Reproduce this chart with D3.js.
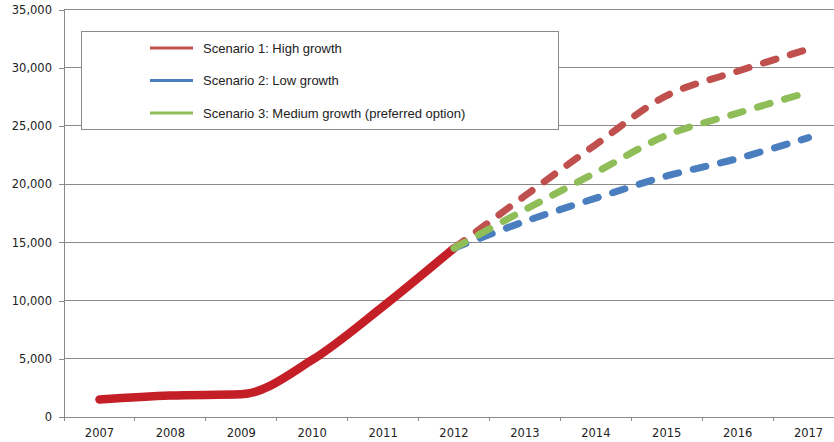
<!DOCTYPE html>
<html>
<head>
<meta charset="utf-8">
<script src="https://cdn.jsdelivr.net/npm/d3@7"></script>
<style>
  html, body { margin: 0; padding: 0; background: #fff; }
  svg { display: block; }
</style>
</head>
<body>
<svg id="chart" width="834" height="442"></svg>
<script>
// ---- data ----
const years = ["2007","2008","2009","2010","2011","2012","2013","2014","2015","2016","2017"];
const historicalYears = ["2007","2008","2009","2010","2011","2012"];
const historicalValues = [1500, 1850, 1950, 4900, 9500, 14500];
const projectionYears = ["2012","2013","2014","2015","2016","2017"];
const highGrowth   = [14500, 19000, 23400, 27600, 29700, 31600];
const lowGrowth    = [14500, 16800, 18800, 20700, 22200, 24000];
const mediumGrowth = [14500, 17800, 21000, 24200, 26100, 27900];
const seriesNames = ["Scenario 1: High growth", "Scenario 2: Low growth", "Scenario 3: Medium growth (preferred option)"];
const yTicks = [0, 5000, 10000, 15000, 20000, 25000, 30000, 35000];

// ---- layout ----
const svg = d3.select("#chart");
const plotLeft = 64, plotRight = 844, plotTop = 9.5, plotBottom = 417;
const x = d3.scaleBand().domain(years).range([plotLeft, plotRight]).padding(0);
const y = d3.scaleLinear().domain([0, 35000]).range([plotBottom, plotTop]);
const cx = d => x(d) + x.bandwidth() / 2;
const gridColor = "#8a8a8a";
const labelFont = "'DejaVu Sans', Verdana, sans-serif";

// gridlines
svg.append("g").selectAll("line").data(yTicks.filter(t => t > 0)).join("line")
  .attr("x1", plotLeft).attr("x2", plotRight)
  .attr("y1", d => y(d)).attr("y2", d => y(d))
  .attr("stroke", gridColor).attr("stroke-width", 1).attr("shape-rendering", "crispEdges");

// y axis
const yAxis = d3.axisLeft(y).tickValues(yTicks).tickSize(5).tickPadding(7)
  .tickFormat(d3.format(","));
const gy = svg.append("g").attr("transform", `translate(${plotLeft},0)`).call(yAxis);
gy.select(".domain").attr("stroke", gridColor).attr("shape-rendering", "crispEdges");
gy.selectAll(".tick line").attr("stroke", gridColor).attr("shape-rendering", "crispEdges");
gy.selectAll(".tick text").attr("font-family", labelFont).attr("font-size", 11.5).attr("fill", "#222");

// x axis (labels at band centres, ticks at band boundaries)
const xAxis = d3.axisBottom(x).tickSize(0).tickPadding(12);
const gx = svg.append("g").attr("transform", `translate(0,${plotBottom})`).call(xAxis);
gx.select(".domain").attr("stroke", gridColor).attr("shape-rendering", "crispEdges");
gx.selectAll(".tick text").attr("font-family", labelFont).attr("font-size", 11.5).attr("fill", "#222");
svg.append("g").selectAll("line").data(years).join("line")
  .attr("x1", d => x(d)).attr("x2", d => x(d))
  .attr("y1", plotBottom).attr("y2", plotBottom + 4)
  .attr("stroke", gridColor).attr("shape-rendering", "crispEdges");

// lines
const zip = (a, b) => a.map((k, i) => [k, b[i]]);
const histLine = d3.line().x(d => cx(d[0])).y(d => y(d[1])).curve(d3.curveMonotoneX);
const projLine = d3.line().x(d => cx(d[0])).y(d => y(d[1])).curve(d3.curveCatmullRom.alpha(0.5));

svg.append("path").datum(zip(historicalYears, historicalValues))
  .attr("d", histLine).attr("fill", "none")
  .attr("stroke", "#c41e26").attr("stroke-width", 8.5).attr("stroke-linecap", "round");

const proj = [
  { vals: highGrowth,   color: "#c0504d" },
  { vals: lowGrowth,    color: "#4a7ebf" },
  { vals: mediumGrowth, color: "#8fbd58" }
];
proj.forEach(p => {
  svg.append("path").datum(zip(projectionYears, p.vals))
    .attr("d", projLine).attr("fill", "none")
    .attr("stroke", p.color).attr("stroke-width", 7)
    .attr("stroke-linecap", "round").attr("stroke-dasharray", "13,15");
});

// legend
const lg = svg.append("g");
lg.append("rect").attr("x", 81.5).attr("y", 31.5).attr("width", 477).attr("height", 98)
  .attr("fill", "#fff").attr("stroke", gridColor).attr("stroke-width", 1);
const legendColors = ["#c0504d", "#4a7ebf", "#8fbd58"];
const legendY = [48, 80.5, 113];
seriesNames.forEach((n, i) => {
  lg.append("line").attr("x1", 150).attr("x2", 193)
    .attr("y1", legendY[i]).attr("y2", legendY[i])
    .attr("stroke", legendColors[i]).attr("stroke-width", 3);
  lg.append("text").attr("x", 203).attr("y", legendY[i]).attr("dy", "0.36em")
    .attr("font-family", "'Liberation Sans', Arial, Helvetica, sans-serif")
    .attr("font-size", 13).attr("fill", "#222").text(n);
});
</script>
</body>
</html>
